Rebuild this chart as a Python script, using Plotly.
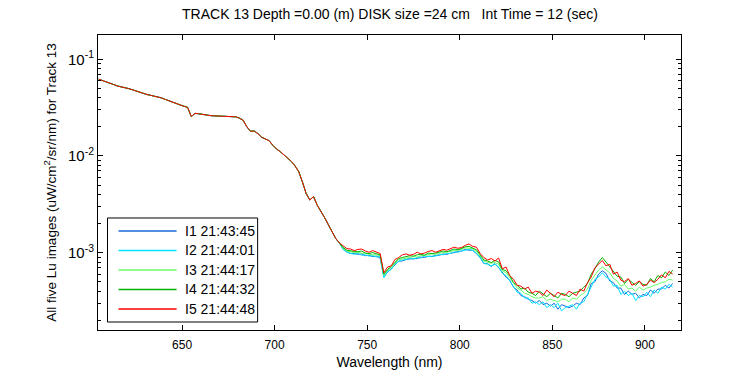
import plotly.graph_objects as go

# Wavelength grid (nm)
wl_common = list(range(605, 737, 2))   # 605..735
wl_tail = list(range(737, 917, 2))     # 737..915

# Lu values in units of 1e-4 uW/cm^2/sr/nm
lu_common = [622, 600, 578, 563, 548, 530, 522, 511, 498, 485,
             470, 452, 438, 432, 424, 417, 409, 398, 384, 370,
             357, 347, 337, 327, 318, 255, 276, 273, 268, 264,
             262, 260, 259, 259, 258, 258, 258, 254, 246, 234,
             200, 180, 181, 170, 156, 150, 144, 129, 118, 111,
             103, 95, 88, 79, 69, 54, 41, 35, 38, 31,
             27, 23, 19.5, 16.3, 14.0, 12.6]

lu_i5_tail = [11.7, 11.0, 10.9, 10.5, 10.8, 10.9, 10.4, 10.1, 10.5, 10.2,
              9.8, 6.2, 7.1, 7.3, 8.5, 8.9, 9.5, 9.7, 9.4, 9.6,
              10.1, 9.7, 9.9, 10.3, 10.5, 10.1, 10.4, 10.8, 10.6, 10.9,
              11.4, 11.1, 11.3, 11.9, 12.3, 11.6, 11.4, 9.8, 8.9, 8.4,
              8.7, 8.2, 8.8, 6.8, 7.1, 5.8, 5.3, 4.6, 4.5, 4.2,
              4.4, 3.8, 4.0, 3.9, 3.6, 4.1, 3.8, 3.5, 3.9, 3.7,
              3.6, 4.0, 3.8, 3.6, 4.2, 4.0, 4.9, 5.6, 7.0, 7.6,
              8.3, 7.3, 7.6, 6.0, 6.3, 5.2, 5.0, 5.4, 4.6, 4.8,
              5.1, 4.5, 4.7, 5.2, 4.9, 5.3, 5.9, 5.5, 6.4, 6.0]

lu_i4_tail = [11.3, 10.6, 10.4, 10.3, 10.2, 10.4, 9.9, 9.8, 10.0, 9.7,
              9.5, 6.0, 6.7, 7.2, 8.0, 8.7, 8.9, 9.1, 9.3, 9.2,
              9.5, 9.6, 9.4, 9.9, 9.8, 9.9, 10.2, 10.4, 10.2, 10.6,
              10.9, 10.7, 11.1, 11.5, 11.6, 11.2, 10.7, 9.5, 8.4, 8.2,
              7.9, 8.3, 8.0, 6.7, 6.5, 5.8, 4.9, 4.6, 4.2, 4.3,
              3.9, 3.8, 3.6, 4.0, 3.7, 3.5, 3.8, 3.6, 3.4, 3.8,
              3.7, 3.5, 3.8, 3.9, 4.0, 4.4, 4.8, 6.0, 6.8, 8.0,
              8.9, 8.0, 7.2, 6.5, 5.7, 5.6, 4.8, 5.3, 4.9, 4.6,
              5.0, 4.7, 4.6, 5.4, 5.0, 5.8, 5.5, 6.3, 5.8, 6.6]

lu_i3_tail = [11.1, 10.4, 10.2, 10.0, 10.1, 9.8, 9.9, 9.6, 9.5, 9.5,
              9.3, 5.8, 6.6, 7.0, 7.8, 8.5, 8.6, 8.8, 9.0, 9.1,
              9.0, 9.3, 9.4, 9.5, 9.7, 9.6, 9.9, 10.0, 10.1, 10.3,
              10.5, 10.6, 10.8, 11.2, 11.1, 11.0, 10.3, 9.2, 8.2, 7.9,
              7.8, 7.9, 7.6, 6.5, 6.2, 5.5, 4.8, 4.3, 4.1, 3.8,
              3.7, 3.5, 3.4, 3.4, 3.5, 3.2, 3.3, 3.2, 3.1, 3.3,
              3.3, 3.1, 3.4, 3.3, 3.6, 3.8, 4.2, 5.2, 5.9, 6.6,
              7.1, 6.6, 6.2, 5.4, 5.1, 4.5, 4.7, 4.2, 4.3, 4.0,
              4.4, 4.1, 4.3, 4.4, 4.6, 4.7, 4.9, 5.0, 5.3, 5.2]

lu_i2_tail = [10.9, 10.1, 9.9, 9.6, 9.8, 9.4, 9.5, 9.2, 9.3, 9.0,
              9.1, 5.5, 6.4, 6.7, 7.6, 8.1, 8.4, 8.5, 8.8, 8.6,
              8.9, 8.8, 9.2, 9.1, 9.2, 9.2, 9.6, 9.5, 9.8, 9.8,
              10.2, 10.1, 10.4, 10.6, 10.8, 10.5, 9.9, 8.8, 7.8, 7.6,
              7.3, 7.6, 7.1, 6.1, 5.8, 5.1, 4.5, 3.9, 3.8, 3.4,
              3.4, 3.0, 3.1, 2.9, 3.1, 2.7, 2.9, 2.7, 3.0, 2.5,
              2.7, 2.8, 2.9, 2.6, 3.0, 3.1, 3.7, 4.4, 5.3, 5.6,
              6.2, 5.6, 5.3, 4.5, 4.6, 3.7, 4.0, 3.6, 3.8, 3.2,
              3.6, 3.5, 3.9, 3.5, 4.1, 3.8, 4.4, 4.2, 4.7, 4.4]

lu_i1_tail = [10.8, 10.2, 9.8, 9.8, 9.6, 9.7, 9.3, 9.4, 9.1, 9.2,
              8.8, 5.6, 6.3, 6.8, 7.4, 8.2, 8.2, 8.5, 8.6, 8.7,
              8.7, 9.0, 8.9, 9.2, 9.1, 9.4, 9.4, 9.7, 9.6, 9.9,
              10.0, 10.3, 10.4, 10.8, 10.6, 10.6, 9.8, 9.0, 7.7, 7.7,
              7.2, 7.7, 7.0, 6.2, 5.6, 5.2, 4.4, 4.1, 3.6, 3.5,
              3.3, 3.2, 3.0, 3.2, 2.9, 3.0, 2.8, 3.0, 2.6, 2.9,
              2.8, 2.7, 2.8, 3.0, 2.9, 3.4, 3.6, 4.8, 5.0, 6.0,
              6.5, 6.1, 5.1, 4.9, 4.3, 4.3, 3.7, 4.0, 3.7, 3.8,
              3.4, 3.7, 3.6, 4.1, 3.8, 4.2, 4.2, 4.6, 4.3, 4.8]

series_names = ["I1 21:43:45", "I2 21:44:01", "I3 21:44:17",
                "I4 21:44:32", "I5 21:44:48"]
series_tails = [lu_i1_tail, lu_i2_tail, lu_i3_tail, lu_i4_tail, lu_i5_tail]
series_colors = ["#1769DB", "#00E4FF", "#66FF66", "#00B400", "#FF0000"]

unit = 1e-4
wl = wl_common + wl_tail

fig = go.Figure()
for name, tail, color in zip(series_names, series_tails, series_colors):
    vals = [v * unit for v in (lu_common + tail)]
    fig.add_trace(go.Scatter(x=wl, y=vals, mode="lines", name=name,
                             line=dict(color=color, width=1),
                             showlegend=False))

# Hand-drawn legend box (MATLAB style: long line samples)
shapes = [dict(type="rect", xref="paper", yref="paper",
               x0=0.0163, x1=0.2738, y0=0.0271, y1=0.3797,
               line=dict(color="black", width=1), fillcolor="white",
               layer="above")]
annotations = []
entry_y0, entry_step = 0.3356, 0.0661
for i, (name, color) in enumerate(zip(series_names, series_colors)):
    yy = entry_y0 - i * entry_step
    shapes.append(dict(type="line", xref="paper", yref="paper",
                       x0=0.0352, x1=0.1348, y0=yy, y1=yy,
                       line=dict(color=color, width=1.3), layer="above"))
    annotations.append(dict(xref="paper", yref="paper", x=0.1451, y=yy,
                            xanchor="left", yanchor="middle", text=name,
                            showarrow=False, font=dict(size=14)))

font_family = "Liberation Sans, Arial, sans-serif"
ytick_vals = [1e-3, 1e-2, 1e-1]
ytick_text = ["10<sup>-3</sup>", "10<sup>-2</sup>", "10<sup>-1</sup>"]
minor_vals = [m * d for d in (1e-4, 1e-3, 1e-2, 1e-1) for m in range(2, 10)]

fig.update_layout(
    width=750, height=375,
    margin=dict(l=98, r=69, t=35, b=45),
    paper_bgcolor="white", plot_bgcolor="white",
    font=dict(family=font_family, size=12, color="black"),
    title=dict(text="TRACK 13 Depth =0.00 (m) DISK size =24 cm   Int Time = 12 (sec)",
               x=0.52, xanchor="center", y=0.963, yanchor="middle",
               font=dict(size=14)),
    showlegend=False,
    shapes=shapes,
    annotations=annotations,
)
fig.update_xaxes(
    range=[604.6, 919.5], showgrid=False, zeroline=False, automargin=False,
    showline=True, linecolor="black", linewidth=1, mirror="ticks",
    ticks="inside", ticklen=5, tickcolor="black",
    tickvals=[650, 700, 750, 800, 850, 900],
    tickfont=dict(size=12), ticklabelstandoff=4,
    title=dict(text="Wavelength (nm)", font=dict(size=14), standoff=5),
)
fig.update_yaxes(
    type="log", range=[-3.8, -0.749], showgrid=False, zeroline=False,
    automargin=False,
    showline=True, linecolor="black", linewidth=1, mirror="ticks",
    ticks="inside", ticklen=5, tickcolor="black",
    tickvals=ytick_vals, ticktext=ytick_text,
    tickfont=dict(size=15),
    minor=dict(ticks="inside", ticklen=3, tickcolor="black",
               tickvals=minor_vals, showgrid=False),
    title=dict(text="All five Lu images (uW/cm<sup>2</sup>/sr/nm) for Track 13",
               font=dict(size=13.5), standoff=8),
)

fig.write_html("out.html", config={"displayModeBar": False},
               post_script="document.body.style.margin='0px';")
